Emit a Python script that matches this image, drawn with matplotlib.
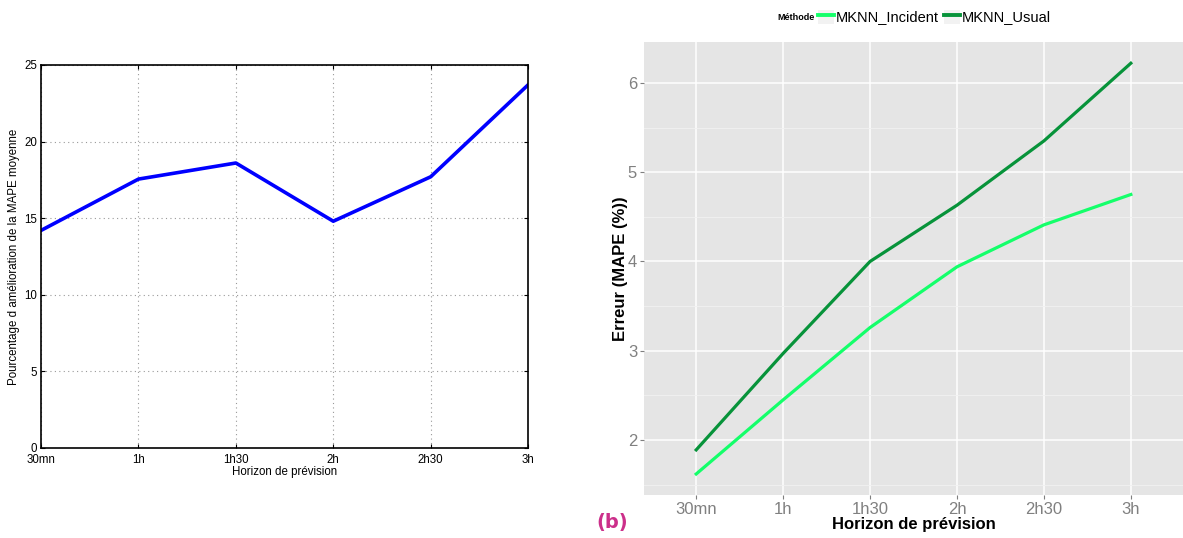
import numpy as np
import matplotlib.pyplot as plt
from matplotlib.lines import Line2D
from matplotlib.patches import Patch

plt.rcParams['font.family'] = ['Liberation Sans', 'DejaVu Sans']

# donnees
horizons = ['30mn', '1h', '1h30', '2h', '2h30', '3h']
amelioration = [14.2, 17.55, 18.6, 14.8, 17.7, 23.7]
mape_incident = [1.62, 2.45, 3.26, 3.94, 4.41, 4.75]
mape_usual = [1.89, 2.97, 4.00, 4.63, 5.35, 6.22]
methodes = ['MKNN_Incident', 'MKNN_Usual']
couleurs = ['#14ff6a', '#07933a']

fig = plt.figure(figsize=(11.83, 5.38), dpi=100)

# graphique gauche (style matlab)
ax1 = fig.add_axes([0.0347, 0.1673, 0.4117, 0.712])
x = np.arange(len(horizons))
ax1.plot(x, amelioration, color='#0000ff', lw=2.6)
ax1.set_xlim(0, 5)
ax1.set_ylim(0, 25)
ax1.set_xticks(x)
ax1.set_xticklabels(horizons)
ax1.set_yticks([0, 5, 10, 15, 20, 25])
ax1.grid(True, color='#999999', linestyle=(0, (1, 3)), lw=0.8)
ax1.tick_params(direction='in', top=True, right=True, labelsize=8.3,
                length=3, pad=3)
ax1.tick_params(axis='x', pad=4)
ax1.set_xlabel('Horizon de prévision', fontsize=8.3, labelpad=0)
ax1.set_ylabel("Pourcentage d amélioration de la MAPE moyenne", fontsize=8.3,
               labelpad=3)
for s in ax1.spines.values():
    s.set_linewidth(1.2)

# graphique droit (style ggplot)
ax2 = fig.add_axes([0.5444, 0.0803, 0.4556, 0.842])
ax2.set_facecolor('#e5e5e5')
for vals, c in zip([mape_incident, mape_usual], couleurs):
    ax2.plot(x, vals, color=c, lw=2.3, zorder=3)
ax2.set_xlim(-0.6, 5.6)
ax2.set_ylim(1.387, 6.46)
ax2.set_xticks(x)
ax2.set_xticklabels(horizons)
ax2.set_yticks([2, 3, 4, 5, 6])
ax2.set_yticks([1.5, 2.5, 3.5, 4.5, 5.5], minor=True)
ax2.grid(True, which='major', color='white', lw=1.1, zorder=0)
ax2.grid(True, which='minor', axis='y', color='#f2f2f2', lw=0.6, zorder=0)
ax2.set_axisbelow(True)
ax2.tick_params(which='both', length=3, color='#7f7f7f', labelsize=12,
                labelcolor='#808080', pad=2)
ax2.tick_params(which='minor', length=0)
for s in ax2.spines.values():
    s.set_visible(False)
ax2.set_xlabel('Horizon de prévision', fontsize=12, fontweight='bold',
               labelpad=0)
ax2.set_ylabel('Erreur (MAPE (%))', fontsize=12, fontweight='bold', labelpad=0)

# legende en haut
handles = [(Patch(facecolor='#f2f2f2', edgecolor='none'),
            Line2D([], [], color=c, lw=2.8)) for c in couleurs]
leg = fig.legend(handles, methodes, loc='center left',
                 bbox_to_anchor=(818 / 1183, 1 - 17 / 538),
                 ncol=2, frameon=False, fontsize=10.5, handlelength=1.1,
                 handleheight=1.1, handletextpad=0.15, columnspacing=0.3,
                 borderpad=0, borderaxespad=0)
fig.text(815 / 1183, 1 - 17 / 538, 'Méthode', fontsize=6.5, fontweight='bold',
         ha='right', va='center')

fig.text(0.5175, 0.028, '(b)', color='#cc2f8a', fontsize=14,
         fontweight='bold', ha='center', va='center', family='DejaVu Sans')

fig.savefig('out.png', dpi=100)
